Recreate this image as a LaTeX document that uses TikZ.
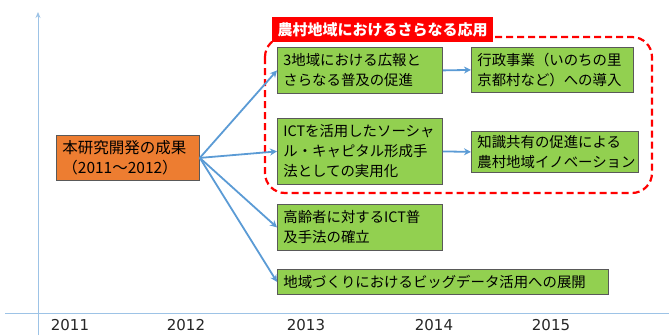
\documentclass[tikz,border=0pt]{standalone}
\usepackage{fontspec}
\setmainfont{Noto Sans CJK JP}
\newfontfamily\yearfont{DejaVu Sans}
\usetikzlibrary{arrows.meta}
\definecolor{gfill}{HTML}{92D050}
\definecolor{ofill}{HTML}{ED7D31}
\definecolor{arrblue}{HTML}{5B9BD5}
\definecolor{axisblue}{HTML}{9DC3E6}
\definecolor{lblred}{HTML}{FF0000}
\begin{document}
\begin{tikzpicture}[x=1pt,y=-1pt,
  gbox/.style={draw=black!65, fill=gfill, line width=0.8pt, anchor=north west,
    inner xsep=6pt, inner ysep=0pt, align=left, font=\fontsize{14.4}{20}\selectfont},
  obox/.style={gbox, fill=ofill, font=\fontsize{15.5}{20}\selectfont},
  lbl/.style={fill=lblred, text=white, anchor=north west, inner sep=0pt,
    font=\bfseries\fontsize{15}{18}\selectfont},
  yr/.style={font=\yearfont\fontsize{15}{17}\selectfont, text=black!85, inner sep=0pt},
  conn/.style={draw=arrblue, line width=1.8pt, -{Stealth[length=7pt,width=7pt]}},
  axis/.style={draw=axisblue, line width=0.9pt}
]
\useasboundingbox (0,0) rectangle (669,335);
% axes
\coordinate (ax0) at (38,335);
\coordinate (ax1) at (38,12);
\coordinate (hx0) at (5,313);
\coordinate (hx1) at (669,313);
\draw[axis, -{Stealth[length=6pt,width=5pt]}] (ax0) -- (ax1);
\draw[axis] (hx0) -- (hx1);
% years
\node[yr] (y1) at (70,325) {2011};
\node[yr] (y2) at (186,325) {2012};
\node[yr] (y3) at (306,325) {2013};
\node[yr] (y4) at (434,325) {2014};
\node[yr] (y5) at (551,325) {2015};
% dashed region
\draw[draw=lblred, line width=2.2pt, dash pattern=on 7pt off 4pt, rounded corners=20pt]
  (265,37) rectangle (652,193);
\node[lbl, minimum width=221pt, minimum height=25pt] (lab) at (272,17) {農村地域におけるさらなる応用};
% boxes
\node[obox, minimum width=141pt, text width=131pt, minimum height=45pt] (org) at (56,135)
  {本研究開発の成果\\（2011～2012）};
\node[gbox, minimum width=163pt, text width=153pt, minimum height=46pt] (b1) at (277,47)
  {3地域における広報と\\さらなる普及の促進};
\node[gbox, minimum width=160pt, text width=150pt, minimum height=45pt] (b2) at (471,47)
  {行政事業（いのちの里\\京都村など）への導入};
\node[gbox, minimum width=163pt, text width=153pt, minimum height=66pt] (b3) at (277,118)
  {ICTを活用したソーシャ\\ル・キャピタル形成手\\法としての実用化};
\node[gbox, minimum width=163pt, text width=155pt, minimum height=41pt] (b4) at (471,131)
  {知識共有の促進による\\農村地域イノベーション};
\node[gbox, minimum width=163pt, text width=153pt, minimum height=46pt] (b5) at (277,204)
  {高齢者に対するICT普\\及手法の確立};
\node[gbox, minimum width=329pt, text width=319pt, minimum height=25pt] (b6) at (277,269)
  {地域づくりにおけるビッグデータ活用への展開};
% connectors
\draw[conn] (org.east) -- (b1.west);
\draw[conn] (org.east) -- (b3.west);
\draw[conn] (org.east) -- (b5.west);
\draw[conn] (org.east) -- (b6.west);
\draw[conn] (b1.east) -- (b2.west);
\draw[conn] (b3.east) -- (b4.west);
\end{tikzpicture}
\end{document}
